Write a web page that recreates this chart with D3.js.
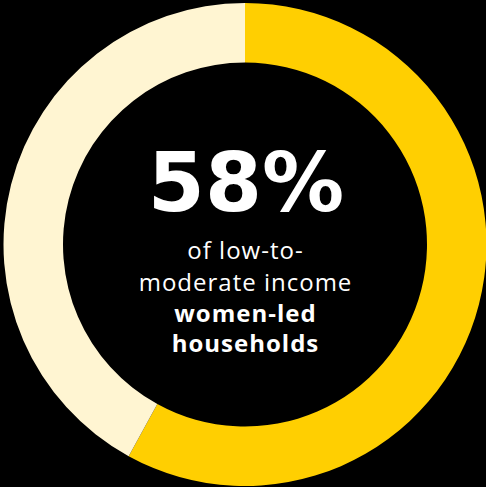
<!DOCTYPE html>
<html>
<head>
<meta charset="utf-8">
<script src="https://cdn.jsdelivr.net/npm/d3@7"></script>
<style>
  html, body { margin: 0; padding: 0; background: #000; }
  svg { display: block; }
</style>
</head>
<body>
<div id="chart-area"></div>
<script>
const WIDTH = 486
const HEIGHT = 487

// share of low-to-moderate income households
const categories = ["women-led", "other"]
const values = [58, 42]
const colors = ["#FFCF01", "#FFF5D2"]

const headline = "58%"
const lines = [
  {text: "of low-to-", bold: false},
  {text: "moderate income", bold: false},
  {text: "women-led", bold: true},
  {text: "households", bold: true}
]

const svg = d3.select("#chart-area").append("svg")
  .attr("width", WIDTH)
  .attr("height", HEIGHT)

svg.append("rect")
  .attr("width", WIDTH)
  .attr("height", HEIGHT)
  .attr("fill", "#000")

const g = svg.append("g")
  .attr("transform", "translate(245, 244.5)")

const color = d3.scaleOrdinal().domain(categories).range(colors)

const pie = d3.pie().sort(null).value(d => d.value)
const arc = d3.arc().innerRadius(182).outerRadius(241.5)

const data = categories.map((c, i) => ({name: c, value: values[i]}))

g.selectAll("path")
  .data(pie(data))
  .enter().append("path")
  .attr("d", arc)
  .attr("fill", d => color(d.data.name))

// headline number
g.append("text")
  .attr("x", 1)
  .attr("y", -34)
  .attr("text-anchor", "middle")
  .attr("font-family", "DejaVu Sans")
  .attr("font-weight", 700)
  .attr("font-size", "82px")
  .attr("fill", "#fff")
  .text(headline)

const baselines = [14, 46.5, 77.5, 107.5]

g.selectAll("text.line")
  .data(lines)
  .enter().append("text")
  .attr("class", "line")
  .attr("x", 0.5)
  .attr("y", (d, i) => baselines[i])
  .attr("text-anchor", "middle")
  .attr("font-family", "Open Sans")
  .attr("font-weight", d => d.bold ? 700 : 400)
  .attr("font-size", "24px")
  .attr("letter-spacing", "1px")
  .attr("fill", "#fff")
  .text(d => d.text)
</script>
</body>
</html>
